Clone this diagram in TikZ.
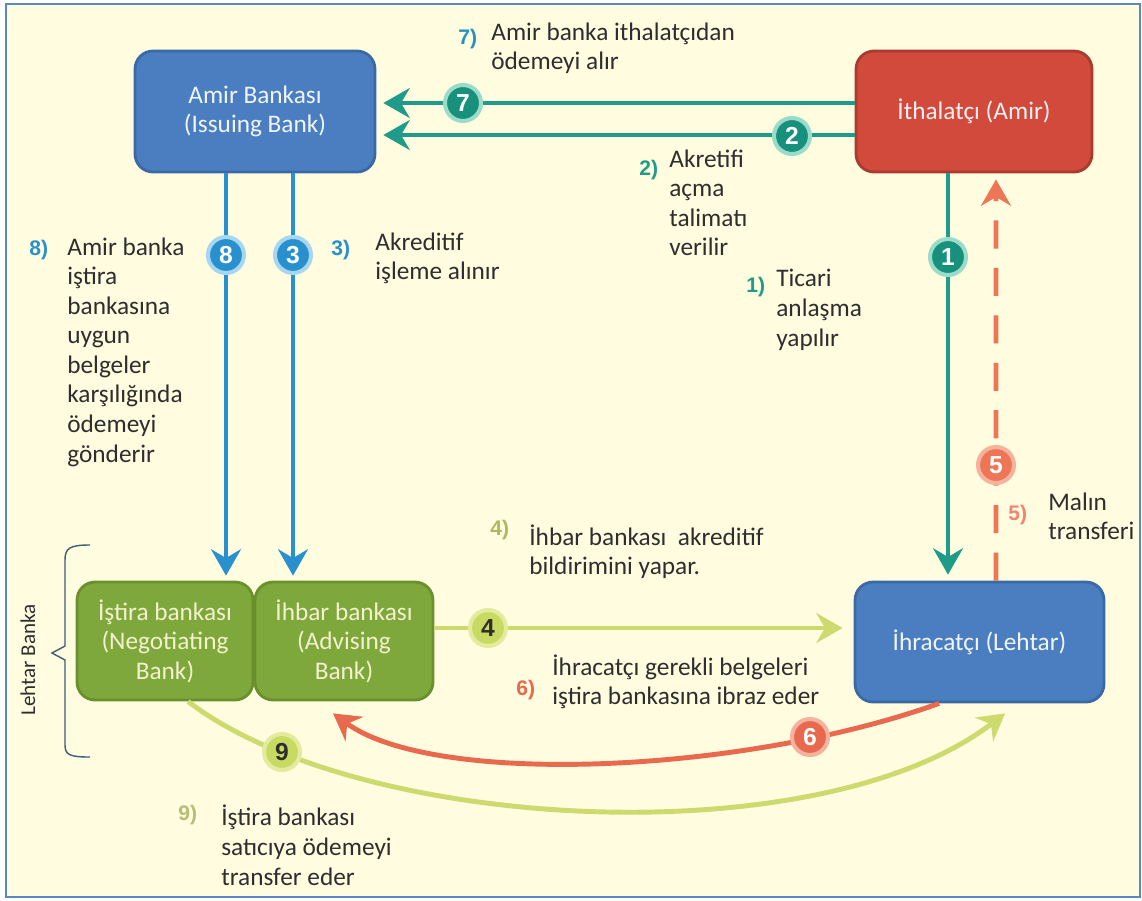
\documentclass[tikz,border=0pt]{standalone}
\usepackage{fontspec}
\setmainfont{Carlito}
\newfontfamily\numfont{Liberation Sans}
\usetikzlibrary{calc,arrows.meta}

\definecolor{bgcream}{HTML}{FFFCDF}
\definecolor{framebl}{HTML}{5B87C5}
\definecolor{tealln}{HTML}{1E9C89}
\definecolor{tealdk}{HTML}{17907C}
\definecolor{tealhalo}{HTML}{9ADBC9}
\definecolor{blueln}{HTML}{2990CF}
\definecolor{bluehalo}{HTML}{A6D6F0}
\definecolor{redln}{HTML}{E8694E}
\definecolor{redhalo}{HTML}{F5B39F}
\definecolor{dashred}{HTML}{EC7656}
\definecolor{yelln}{HTML}{CCDA6E}
\definecolor{yelfill}{HTML}{C8DA62}
\definecolor{yelhalo}{HTML}{E3EC9E}
\definecolor{boxblue}{HTML}{4A7EC0}
\definecolor{boxblueedge}{HTML}{3A69A6}
\definecolor{boxred}{HTML}{D24A3B}
\definecolor{boxrededge}{HTML}{A93B30}
\definecolor{boxgreen}{HTML}{7EA83B}
\definecolor{boxgreenedge}{HTML}{6A8F2D}
\definecolor{greentext}{HTML}{F3F1CE}
\definecolor{txtgray}{HTML}{2E2E2E}
\definecolor{bracecol}{HTML}{3A5F78}

\tikzset{
  box/.style={draw, rounded corners=0.36cm, line width=1.6pt, align=center,
    font=\fontsize{14.4pt}{16.8pt}\selectfont},
  bluebox/.style={box, fill=boxblue, draw=boxblueedge, text=white!92!boxblue},
  redbox/.style={box, fill=boxred, draw=boxrededge, text=white!92!boxred},
  greenbox/.style={box, fill=boxgreen, draw=boxgreenedge, text=greentext},
  arr/.style={line width=2.8pt, -{Stealth[length=15pt,width=17pt,inset=5pt]}},
  numc/.style={circle, minimum size=0.72cm, inner sep=0pt, line width=2.3pt,
    font=\numfont\bfseries\fontsize{14pt}{14pt}\selectfont},
  txt/.style={anchor=base west, align=left, inner sep=0pt, text=txtgray,
    font=\fontsize{14.4pt}{16.8pt}\selectfont},
  lbl/.style={anchor=base west, inner sep=0pt,
    font=\numfont\bfseries\fontsize{12pt}{12pt}\selectfont},
}

\begin{document}
\begin{tikzpicture}[x=0.02cm,y=-0.02cm]
\useasboundingbox (0,0) rectangle (1142,900);
\fill[white] (0,0) rectangle (1142,900);
\fill[bgcream] (6,4) rectangle (1140,897);
\draw[framebl, line width=1.5pt] (6,4) rectangle (1140,897);

% parties and banks
\node[bluebox, minimum width=4.8cm, minimum height=2.42cm] (amir) at (255,111.5) {Amir Bankası\\(Issuing Bank)};
\node[redbox, minimum width=4.72cm, minimum height=2.42cm] (ith) at (974,111.5) {İthalatçı (Amir)};
\node[greenbox, minimum width=3.52cm, minimum height=2.36cm] (istira) at (165,641) {İştira bankası\\(Negotiating\\Bank)};
\node[greenbox, minimum width=3.56cm, minimum height=2.36cm] (ihbar) at (344,641) {İhbar bankası\\(Advising\\Bank)};
\node[bluebox, minimum width=4.98cm, minimum height=2.4cm] (ihr) at (979.5,642) {İhracatçı (Lehtar)};

% flows
\draw[arr, tealln] ($(ith.west)+(0,-8.5)$) -- ($(amir.east)+(7,-8.5)$);
\draw[arr, tealln] ($(ith.west)+(0,23.5)$) -- ($(amir.east)+(7,23.5)$);
\draw[arr, blueln] ($(amir.south)+(-29,0)$) -- ($(istira.north)+(61,-5)$);
\draw[arr, blueln] ($(amir.south)+(38,0)$) -- ($(ihbar.north)+(-51,-5)$);
\draw[arr, tealln] ($(ith.south)+(-26,0)$) -- ($(ihr.north)+(-31.5,-6)$);
\draw[arr, dashred, dash pattern=on 16pt off 11pt] ($(ihr.north)+(16.5,0)$) -- ($(ith.south)+(22,6)$);
\draw[arr, yelln] ($(ihbar.east)+(0,-13)$) -- ($(ihr.west)+(-11,-14)$);
\draw[arr, redln] ($(ihr.south)+(-40.5,0)$) .. controls (742,774) and (434,787) .. ($(ihbar.south)+(-11,12)$);
\draw[arr, yelln] ($(istira.south)+(23,0)$) .. controls (358,832) and (818,857) .. ($(ihr.south)+(25.5,10)$);

% step numbers
\node[numc, fill=tealdk, draw=tealhalo, text=white] (c7) at (463,103) {7};
\node[numc, fill=tealdk, draw=tealhalo, text=white] (c2) at (792,136) {2};
\node[numc, fill=blueln, draw=bluehalo, text=white] (c8) at (226,255) {8};
\node[numc, fill=blueln, draw=bluehalo, text=white] (c3) at (293,255) {3};
\node[numc, fill=tealdk, draw=tealhalo, text=white] (c1) at (948,257) {1};
\node[numc, fill=dashred, draw=redhalo, text=white] (c5) at (996,465) {5};
\node[numc, fill=yelfill, draw=yelhalo, text=txtgray] (c4) at (488,628) {4};
\node[numc, fill=redln, draw=redhalo, text=white] (c6) at (810,737) {6};
\node[numc, fill=yelfill, draw=yelhalo, text=txtgray] (c9) at (282,752) {9};

% explanations (base = last line)
\node[lbl, text=blueln!80!tealln] (l7) at (458,44) {7)};
\node[txt] (t7) at (491,69.6) {Amir banka ithalatçıdan\\ödemeyi alır};
\node[lbl, text=tealln] (l2) at (639,175) {2)};
\node[txt] (t2) at (669,255.8) {Akretifi\\açma\\talimatı\\verilir};
\node[lbl, text=blueln] (l3) at (331,255) {3)};
\node[txt] (t3) at (375,279.6) {Akreditif\\işleme alınır};
\node[lbl, text=blueln] (l8) at (29,255) {8)};
\node[txt] (t8) at (67,462) {Amir banka\\iştira\\bankasına\\uygun\\belgeler\\karşılığında\\ödemeyi\\gönderir};
\node[lbl, text=tealln] (l1) at (746,292) {1)};
\node[txt] (t1) at (776,346) {Ticari\\anlaşma\\yapılır};
\node[lbl, text=redln!80!white] (l5) at (1008,520) {5)};
\node[txt] (t5) at (1048,539.6) {Malın\\transferi};
\node[lbl, text=yelln!85!black] (l4) at (490,535) {4)};
\node[txt] (t4) at (529,574.6) {İhbar bankası\ \ akreditif\\bildirimini yapar.};
\node[lbl, text=redln] (l6) at (516,695) {6)};
\node[txt] (t6) at (552,704.6) {İhracatçı gerekli belgeleri\\iştira bankasına ibraz eder};
\node[lbl, text=yelln!70!gray] (l9) at (178,820) {9)};
\node[txt] (t9) at (221,885) {İştira bankası\\satıcıya ödemeyi\\transfer eder};

% beneficiary side brace
\node[rotate=90, text=txtgray, font=\fontsize{12pt}{14pt}\selectfont] (lehtar) at (28,660) {Lehtar Banka};
\draw[bracecol, line width=0.8pt] (90,545) .. controls (70,545) and (65,548) .. (65,560) -- (65,646) -- (52,653) -- (65,660) -- (65,745) .. controls (65,755) and (70,757) .. (90,757);
\end{tikzpicture}
\end{document}
